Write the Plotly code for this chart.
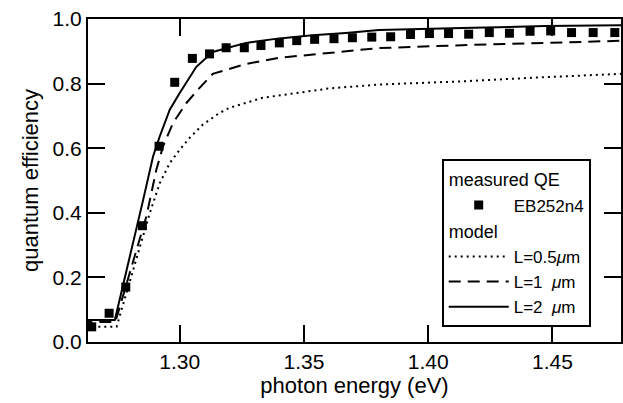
import plotly.graph_objects as go

# measured QE (EB252n4)
meas_x = [1.2646, 1.2716, 1.2783, 1.2850, 1.2917, 1.2980, 1.3051, 1.3120, 1.3187, 1.3260,
          1.3327, 1.3401, 1.3471, 1.3543, 1.3621, 1.3695, 1.3773, 1.3849, 1.3929, 1.4005,
          1.4082, 1.4163, 1.4246, 1.4327, 1.4410, 1.4493, 1.4577, 1.4664, 1.4751]
meas_y = [0.047, 0.089, 0.170, 0.360, 0.606, 0.804, 0.878, 0.892, 0.911, 0.911,
          0.918, 0.926, 0.933, 0.937, 0.939, 0.942, 0.944, 0.945, 0.952, 0.955,
          0.955, 0.953, 0.958, 0.956, 0.962, 0.963, 0.958, 0.958, 0.958]

# model L = 0.5 um
l05_x = [1.2600, 1.2746, 1.2880, 1.2920, 1.2960, 1.3000, 1.3040, 1.3093, 1.3160, 1.3200,
         1.3334, 1.3468, 1.3601, 1.3802, 1.4136, 1.4470, 1.4800]
l05_y = [0.047, 0.047, 0.400, 0.492, 0.554, 0.595, 0.632, 0.673, 0.709, 0.725,
         0.756, 0.771, 0.785, 0.797, 0.807, 0.820, 0.831]

# model L = 1 um
l1_x = [1.2600, 1.2741, 1.2866, 1.2906, 1.2933, 1.2973, 1.3027, 1.3080, 1.3133, 1.3267,
        1.3401, 1.3534, 1.3668, 1.3802, 1.4136, 1.4470, 1.4800]
l1_y = [0.062, 0.062, 0.389, 0.533, 0.606, 0.678, 0.740, 0.787, 0.830, 0.861,
        0.880, 0.890, 0.898, 0.910, 0.919, 0.926, 0.933]

# model L = 2 um
l2_x = [1.2600, 1.2739, 1.2853, 1.2893, 1.2920, 1.2960, 1.3000, 1.3067, 1.3133, 1.3267,
        1.3401, 1.3534, 1.3668, 1.3802, 1.4136, 1.4470, 1.4800]
l2_y = [0.068, 0.068, 0.440, 0.575, 0.637, 0.719, 0.771, 0.852, 0.898, 0.926,
        0.940, 0.950, 0.957, 0.966, 0.972, 0.978, 0.981]

x_ticks = [1.30, 1.35, 1.40, 1.45]
x_ticktext = ["1.30", "1.35", "1.40", "1.45"]
y_ticks = [0.0, 0.2, 0.4, 0.6, 0.8, 1.0]
y_ticktext = ["0.0", "0.2", "0.4", "0.6", "0.8", "1.0"]

FONT = "Liberation Sans, Arial, Helvetica, sans-serif"

fig = go.Figure()
fig.add_trace(go.Scatter(
    x=meas_x, y=meas_y, mode="markers", name="EB252n4",
    marker=dict(symbol="square", size=9, color="black"),
    legendgroup="meas", legendgrouptitle=dict(text="measured QE"),
))
fig.add_trace(go.Scatter(
    x=l05_x, y=l05_y, mode="lines", name="L=0.5<i>μ</i>m",
    line=dict(color="black", width=2, dash="2px,4px"),
    legendgroup="model", legendgrouptitle=dict(text="model"),
))
fig.add_trace(go.Scatter(
    x=l1_x, y=l1_y, mode="lines", name="L=1\u00a0\u00a0<i>μ</i>m",
    line=dict(color="black", width=2, dash="12px,7px"),
    legendgroup="model",
))
fig.add_trace(go.Scatter(
    x=l2_x, y=l2_y, mode="lines", name="L=2\u00a0\u00a0<i>μ</i>m",
    line=dict(color="black", width=2),
    legendgroup="model",
))

fig.update_layout(
    width=623, height=403,
    margin=dict(l=88, r=0, t=19, b=61),
    plot_bgcolor="white",
    font=dict(family=FONT, size=21, color="black"),
    showlegend=True,
    legend=dict(
        x=0.6636, y=0.5666, xanchor="left", yanchor="top",
        bgcolor="white", bordercolor="black", borderwidth=2,
        tracegroupgap=0, traceorder="grouped",
        font=dict(family=FONT, size=17, color="black"),
        grouptitlefont=dict(family=FONT, size=18, color="black"),
        itemwidth=60,
    ),
    xaxis=dict(
        range=[1.2631, 1.4776],
        tickvals=x_ticks, ticktext=x_ticktext,
        ticks="inside", ticklen=17, tickwidth=2, tickcolor="black",
        showline=True, linewidth=2, linecolor="black", mirror="ticks",
        gridcolor="rgba(0,0,0,0)",
        title=dict(text="photon energy (eV)", standoff=4, font=dict(size=22)),
    ),
    yaxis=dict(
        range=[0, 1],
        tickvals=y_ticks, ticktext=y_ticktext, ticksuffix="\u00a0",
        ticks="inside", ticklen=17, tickwidth=2, tickcolor="black",
        showline=True, linewidth=2, linecolor="black", mirror="ticks",
        gridcolor="rgba(0,0,0,0)", zerolinecolor="black", zerolinewidth=2,
        title=dict(text="quantum efficiency", standoff=8, font=dict(size=22)),
    ),
)

fig.write_html("out.html")
